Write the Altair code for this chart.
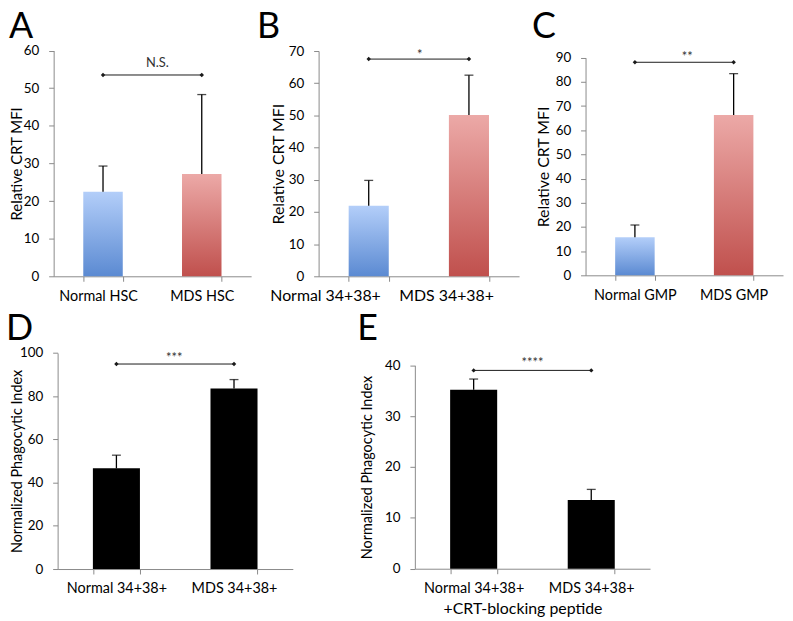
import altair as alt
import pandas as pd

FONT = "Lato"
AXIS_GRAY = "#8a8a8a"
VIEW_W, VIEW_H = 783, 613

# ---------------- data ----------------
a_cats = ["Normal HSC", "MDS HSC"]
a_means = [22.5, 27.2]
a_upper = [29.3, 48.3]
a_sig = 53.5
a_sig_label = "N.S."
a_ticks = [0, 10, 20, 30, 40, 50, 60]

b_cats = ["Normal 34+38+", "MDS 34+38+"]
b_means = [21.9, 50.1]
b_upper = [29.8, 62.5]
b_sig = 67.5
b_sig_label = "*"
b_ticks = [0, 10, 20, 30, 40, 50, 60, 70]

c_cats = ["Normal GMP", "MDS GMP"]
c_means = [15.7, 66.3]
c_upper = [20.8, 83.4]
c_sig = 88.1
c_sig_label = "**"
c_ticks = [0, 10, 20, 30, 40, 50, 60, 70, 80, 90]

d_cats = ["Normal 34+38+", "MDS 34+38+"]
d_means = [46.6, 83.6]
d_upper = [52.7, 87.7]
d_sig = 94.9
d_sig_label = "***"
d_ticks = [0, 20, 40, 60, 80, 100]

e_cats = ["Normal 34+38+", "MDS 34+38+"]
e_means = [35.2, 13.5]
e_upper = [37.3, 15.6]
e_sig = 39.0
e_sig_label = "****"
e_ticks = [0, 10, 20, 30, 40]

crt_title = "Relative CRT MFI"
phago_title = "Normalized Phagocytic Index"
e_xtitle = "+CRT-blocking peptide"
panel_letters = ["A", "B", "C", "D", "E"]

# ---------------- styles ----------------
blue = alt.Gradient(gradient="linear",
                    stops=[alt.GradientStop(color="#B3CEF9", offset=0),
                           alt.GradientStop(color="#5B8AD2", offset=1)],
                    x1=0, x2=0, y1=0, y2=1)
red = alt.Gradient(gradient="linear",
                   stops=[alt.GradientStop(color="#ECA9A7", offset=0),
                          alt.GradientStop(color="#C0504D", offset=1)],
                   x1=0, x2=0, y1=0, y2=1)

axis_common = dict(domainColor=AXIS_GRAY, tickColor=AXIS_GRAY, domainWidth=1,
                   tickWidth=1, tickSize=5, labelColor="black", labelFont=FONT,
                   titleFont=FONT, titleColor="black", titleFontWeight="normal",
                   grid=False)


def panel(cats, means, upper, sig, sig_label, ticks, xr, yr, ytitle, ytitle_x,
          fills, label_offsets=None, label_size=14.5, sig_dx=0, sig_dy=-3,
          xtitle=None, xtitle_xy=None, ytitle_size=14.5):
    width = xr[1] - xr[0]
    bars = pd.DataFrame({"cat": cats, "mean": means, "upper": upper})
    sigdf = pd.DataFrame({"cat": cats, "sig": [sig, sig]})
    sigtext = pd.DataFrame({"cat": [cats[0]], "sig": [sig], "label": [sig_label]})

    xkw = dict(orient="bottom", offset=-(VIEW_H - yr[0]), tickBand="extent",
               labelAngle=0, labelBaseline="alphabetic", labelPadding=19,
               labelFontSize=label_size, labelOverlap=False, **axis_common)
    if label_offsets is not None:
        xkw["labelOffset"] = {"condition": {"test": f"datum.value === '{cats[0]}'",
                                            "value": label_offsets[0]},
                              "value": label_offsets[1]}
    if xtitle:
        xkw.update(title=xtitle, titleX=xtitle_xy[0], titleY=xtitle_xy[1],
                   titleBaseline="alphabetic", titleFontSize=16)
    else:
        xkw["title"] = None

    xscale = alt.Scale(domain=cats, range=list(xr), paddingInner=0.6, paddingOuter=0.3)
    yscale = alt.Scale(domain=[0, ticks[-1]], range=list(yr), nice=False, zero=True)
    yaxis = alt.Axis(orient="left", offset=-xr[0], values=ticks, labelPadding=10,
                     labelFontSize=13.5, title=ytitle, titleX=ytitle_x,
                     titleBaseline="middle", titleFontSize=ytitle_size, **axis_common)
    X = alt.X("cat:N", scale=xscale, axis=alt.Axis(**xkw), sort=cats)

    def Y(field):
        return alt.Y(f"{field}:Q", scale=yscale, axis=yaxis)

    base = alt.Chart(bars)
    layers = []
    if isinstance(fills, list):
        for cat, fill in zip(cats, fills):
            layers.append(base.transform_filter(alt.datum.cat == cat)
                          .mark_bar(color=fill).encode(x=X, y=Y("mean")))
    else:
        layers.append(base.mark_bar(color=fills).encode(x=X, y=Y("mean")))
    layers.append(base.mark_rule(color="black", strokeWidth=1.3)
                  .encode(x=X, y=Y("mean"), y2=alt.Y2("upper:Q")))
    layers.append(base.mark_tick(color="black", thickness=1.3, size=9)
                  .encode(x=X, y=Y("upper")))
    layers.append(alt.Chart(sigdf).mark_line(
        color="#1a1a1a", strokeWidth=1,
        point=alt.OverlayMarkDef(shape="diamond", filled=True, size=20, color="#1a1a1a"))
        .encode(x=X, y=Y("sig")))
    layers.append(alt.Chart(sigtext).mark_text(
        font=FONT, fontSize=13, color="#333333", align="center", baseline="alphabetic",
        dx=width / 4 + sig_dx, dy=sig_dy).encode(x=X, y=Y("sig"), text="label:N"))
    return alt.layer(*layers)


pA = panel(a_cats, a_means, a_upper, a_sig, a_sig_label, a_ticks,
           xr=(46, 245), yr=(268, 40.5), ytitle=crt_title, ytitle_x=-37,
           fills=[blue, red], label_offsets=(-5, 0), sig_dx=5, sig_dy=-8.3,
           ytitle_size=15)
pB = panel(b_cats, b_means, b_upper, b_sig, b_sig_label, b_ticks,
           xr=(313, 515), yr=(268, 41), ytitle=crt_title, ytitle_x=-40,
           fills=[blue, red], label_offsets=(-44, -23), label_size=16,
           sig_dx=1, sig_dy=-0.5, ytitle_size=16)
pC = panel(c_cats, c_means, c_upper, c_sig, c_sig_label, c_ticks,
           xr=(582, 781), yr=(267, 47.7), ytitle=crt_title, ytitle_x=-42,
           fills=[blue, red], sig_dx=3, sig_dy=-1, ytitle_size=16)
pD = panel(d_cats, d_means, d_upper, d_sig, d_sig_label, d_ticks,
           xr=(50, 287), yr=(563, 345.3), ytitle=phago_title, ytitle_x=-40,
           fills="black", sig_dx=-1, sig_dy=-2)
pE = panel(e_cats, e_means, e_upper, e_sig, e_sig_label, e_ticks,
           xr=(410, 647), yr=(562.7, 357.7), ytitle=phago_title, ytitle_x=-48,
           fills="black", sig_dx=0, sig_dy=-3.6,
           xtitle=e_xtitle, xtitle_xy=(518.5, 45.3))


def letter(ch, x, y):
    return alt.Chart(alt.Data(values=[{}])).mark_text(
        text=ch, font=FONT, fontSize=36, align="left", baseline="alphabetic",
        color="black").encode(x=alt.value(x), y=alt.value(y))


letter_pos = [(1, 28), (251, 28), (528, 28), (-2, 332), (352, 332)]
letters = [letter(ch, x, y) for ch, (x, y) in zip(panel_letters, letter_pos)]

chart = (alt.layer(pA, pB, pC, pD, pE, *letters)
         .resolve_scale(x="independent", y="independent")
         .properties(width=VIEW_W, height=VIEW_H, padding=0,
                     autosize=alt.AutoSizeParams(type="none"))
         .configure_view(strokeWidth=0))

chart.save("out.html", embed_options={"renderer": "svg", "actions": False})
